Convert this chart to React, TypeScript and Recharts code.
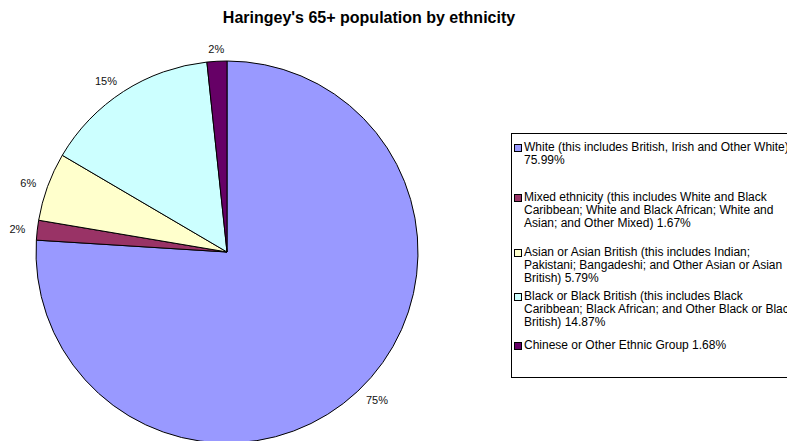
import { PieChart, Pie, Cell } from "recharts"

const categories = [
  "White (this includes British, Irish and Other White)",
  "Mixed ethnicity (this includes White and Black Caribbean; White and Black African; White and Asian; and Other Mixed)",
  "Asian or Asian British (this includes Indian; Pakistani; Bangadeshi; and Other Asian or Asian British)",
  "Black or Black British (this includes Black Caribbean; Black African; and Other Black or Black British)",
  "Chinese or Other Ethnic Group",
]
const values = [75.99, 1.67, 5.79, 14.87, 1.68]
const sliceLabels = ["75%", "2%", "6%", "15%", "2%"]
const colors = ["#9999ff", "#993366", "#ffffcc", "#ccffff", "#660066"]

// how the legend text wraps in the original
const legendLines = [
  ["White (this includes British, Irish and Other White)", "75.99%"],
  [
    "Mixed ethnicity (this includes White and Black",
    "Caribbean; White and Black African; White and",
    "Asian; and Other Mixed) 1.67%",
  ],
  [
    "Asian or Asian British (this includes Indian;",
    "Pakistani; Bangadeshi; and Other Asian or Asian",
    "British) 5.79%",
  ],
  [
    "Black or Black British (this includes Black",
    "Caribbean; Black African; and Other Black or Black",
    "British) 14.87%",
  ],
  ["Chinese or Other Ethnic Group 1.68%"],
]
const legendTops = [141, 191, 246, 290, 339]

const data = categories.map((name, i) => ({ name, value: values[i] }))

const RADIAN = Math.PI / 180
const font = "'Liberation Sans', Arial, sans-serif"

function renderLabel(props: any) {
  const { cx, cy, midAngle, outerRadius, index } = props
  const r = outerRadius + 12
  const x = cx + r * Math.cos(-midAngle * RADIAN)
  const y = cy + r * Math.sin(-midAngle * RADIAN)
  const dx = x - cx
  const anchor = Math.abs(dx) < 20 ? "middle" : dx < 0 ? "end" : "start"
  return (
    <text
      x={x}
      y={y}
      textAnchor={anchor}
      dominantBaseline="central"
      fontSize={11}
      fontFamily={font}
      fill="#111"
    >
      {sliceLabels[index]}
    </text>
  )
}

export default function App() {
  return (
    <div
      style={{
        position: "absolute",
        left: 0,
        top: 0,
        width: 787,
        height: 441,
        overflow: "hidden",
        background: "#fff",
        fontFamily: font,
      }}
    >
      {/* title */}
      <div
        style={{
          position: "absolute",
          left: 0,
          width: 738,
          top: 9,
          textAlign: "center",
          fontWeight: "bold",
          fontSize: 16,
          color: "#000",
        }}
      >
        Haringey's 65+ population by ethnicity
      </div>

      <PieChart width={787} height={441} style={{ position: "absolute", left: 0, top: 0 }}>
        <Pie
          data={data}
          dataKey="value"
          cx={222}
          cy={247}
          outerRadius={191}
          startAngle={90}
          endAngle={-270}
          stroke="#000"
          strokeWidth={1}
          label={renderLabel}
          labelLine={false}
          isAnimationActive={false}
        >
          {data.map((d, i) => (
            <Cell key={d.name} fill={colors[i]} />
          ))}
        </Pie>
      </PieChart>

      {/* legend */}
      <div
        style={{
          position: "absolute",
          left: 511,
          top: 133,
          width: 300,
          height: 243,
          border: "1px solid #000",
          background: "#fff",
        }}
      />
      {legendLines.map((lines, i) => (
        <div
          key={i}
          style={{
            position: "absolute",
            left: 514,
            top: legendTops[i],
            fontSize: 12,
            lineHeight: "13px",
            color: "#000",
            whiteSpace: "nowrap",
          }}
        >
          <span
            style={{
              position: "absolute",
              left: 0,
              top: 3,
              width: 6,
              height: 6,
              border: "1px solid #000",
              background: colors[i],
            }}
          />
          <div style={{ marginLeft: 10 }}>
            {lines.map((l, j) => (
              <div key={j}>{l}</div>
            ))}
          </div>
        </div>
      ))}
    </div>
  )
}
